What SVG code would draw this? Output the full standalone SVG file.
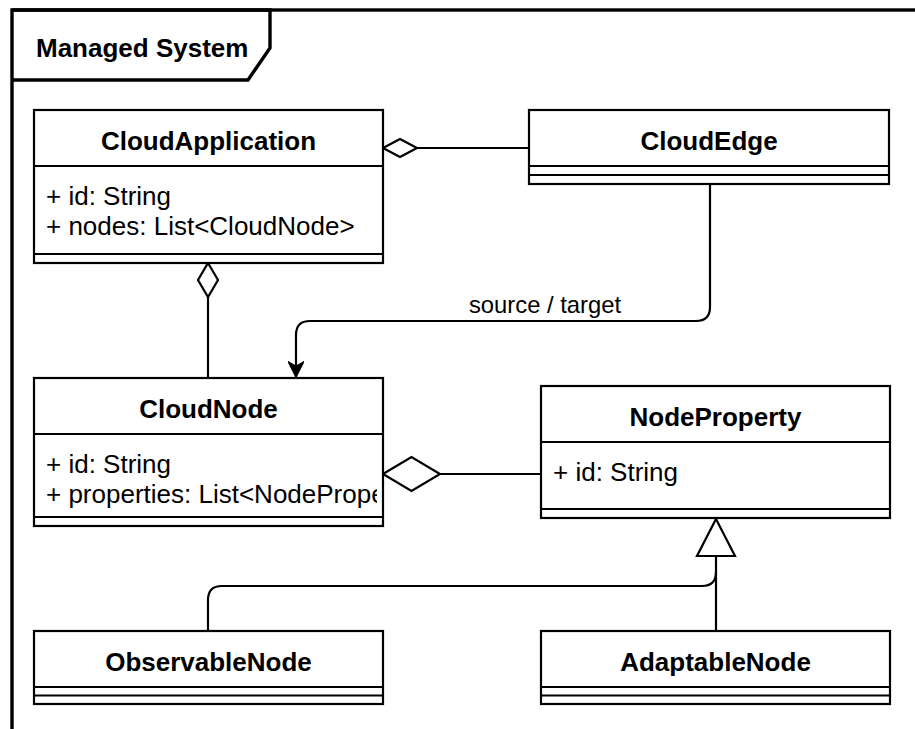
<svg xmlns="http://www.w3.org/2000/svg" width="915" height="729" viewBox="0 0 915 729">
  <style>
    .box { fill: #ffffff; stroke: #000000; stroke-width: 2.2; }
    .sep { fill: none; stroke: #000000; stroke-width: 2.2; }
    .frame { fill: none; stroke: #000000; stroke-width: 3.4; }
    .edge { fill: none; stroke: #000000; stroke-width: 2.2; }
    .dia { fill: #ffffff; stroke: #000000; stroke-width: 2.2; }
    .title { font-family: "Liberation Sans", Arial, sans-serif; font-size: 26px; font-weight: bold; fill: #000000; text-anchor: middle; }
    .attr { font-family: "Liberation Sans", Arial, sans-serif; font-size: 26px; fill: #000000; }
    .lbl { font-family: "Liberation Sans", Arial, sans-serif; font-size: 23.8px; fill: #000000; text-anchor: middle; }
  </style>
  <defs>
    <marker id="classic" viewBox="-16 -8 17 16" refX="0" refY="0" markerWidth="17" markerHeight="16" markerUnits="userSpaceOnUse" orient="auto">
      <path d="M0,0 L-15,-7.5 L-10.5,0 L-15,7.5 Z" fill="#000000" stroke="#000000" stroke-width="1.5" stroke-linejoin="miter"/>
    </marker>
    <clipPath id="clipCloudNode">
      <rect x="35" y="434" width="342" height="83"/>
    </clipPath>
  </defs>
  <rect width="915" height="729" fill="#ffffff"/>

  <g id="frame">
    <rect class="frame" x="12" y="10" width="1000" height="1000"/>
    <path class="frame" d="M12,10 H270 V48 L248,80 H12"/>
    <text class="title" x="36" y="57" style="text-anchor:start">Managed System</text>
  </g>

  <g id="connectors">
    <!-- CloudApplication <>— CloudEdge -->
    <line class="edge" x1="417" y1="148" x2="529" y2="148"/>
    <polygon class="dia" points="383,148 400,139 417,148 400,157"/>
    <!-- CloudApplication <>— CloudNode -->
    <line class="edge" x1="208" y1="297" x2="208" y2="378"/>
    <polygon class="dia" points="208,263 218,280 208,297 198,280"/>
    <!-- CloudEdge -> CloudNode source/target -->
    <path class="edge" d="M710,184 V307 Q710,321 696,321 H310 Q296,321 296,335 V377" marker-end="url(#classic)"/>
    <text class="lbl" x="545" y="313">source / target</text>
    <!-- CloudNode <>— NodeProperty -->
    <line class="edge" x1="440" y1="474" x2="541" y2="474"/>
    <polygon class="dia" points="383,474 411.5,457 440,474 411.5,491"/>
    <!-- Generalization -->
    <line class="edge" x1="716" y1="556" x2="716" y2="631"/>
    <path class="edge" d="M208,631 V600 Q208,586 222,586 H702 Q716,586 716,572"/>
    <polygon class="dia" points="716,519 735,556 697,556"/>
  </g>

  <g id="CloudApplication">
    <rect class="box" x="34" y="110" width="349" height="153"/>
    <line class="sep" x1="34" y1="166" x2="383" y2="166"/>
    <line class="sep" x1="34" y1="254" x2="383" y2="254"/>
    <text class="title" x="208.5" y="150">CloudApplication</text>
    <text class="attr" x="46" y="205">+ id: String</text>
    <text class="attr" x="46" y="235">+ nodes: List&lt;CloudNode&gt;</text>
  </g>

  <g id="CloudEdge">
    <rect class="box" x="529" y="110" width="360" height="74"/>
    <line class="sep" x1="529" y1="166" x2="889" y2="166"/>
    <line class="sep" x1="529" y1="175" x2="889" y2="175"/>
    <text class="title" x="709" y="150">CloudEdge</text>
  </g>

  <g id="CloudNode">
    <rect class="box" x="34" y="378" width="349" height="148"/>
    <line class="sep" x1="34" y1="434" x2="383" y2="434"/>
    <line class="sep" x1="34" y1="517" x2="383" y2="517"/>
    <text class="title" x="208.5" y="418">CloudNode</text>
    <g clip-path="url(#clipCloudNode)">
      <text class="attr" x="46" y="473">+ id: String</text>
      <text class="attr" x="46" y="503">+ properties: List&lt;NodeProperty&gt;</text>
    </g>
  </g>

  <g id="NodeProperty">
    <rect class="box" x="541" y="386" width="349" height="132"/>
    <line class="sep" x1="541" y1="442" x2="890" y2="442"/>
    <line class="sep" x1="541" y1="509" x2="890" y2="509"/>
    <text class="title" x="715.5" y="426">NodeProperty</text>
    <text class="attr" x="553" y="481">+ id: String</text>
  </g>

  <g id="ObservableNode">
    <rect class="box" x="34" y="631" width="349" height="73"/>
    <line class="sep" x1="34" y1="687" x2="383" y2="687"/>
    <line class="sep" x1="34" y1="695.5" x2="383" y2="695.5"/>
    <text class="title" x="208.5" y="671">ObservableNode</text>
  </g>

  <g id="AdaptableNode">
    <rect class="box" x="541" y="631" width="349" height="73"/>
    <line class="sep" x1="541" y1="687" x2="890" y2="687"/>
    <line class="sep" x1="541" y1="695.5" x2="890" y2="695.5"/>
    <text class="title" x="715.5" y="671">AdaptableNode</text>
  </g>
</svg>
